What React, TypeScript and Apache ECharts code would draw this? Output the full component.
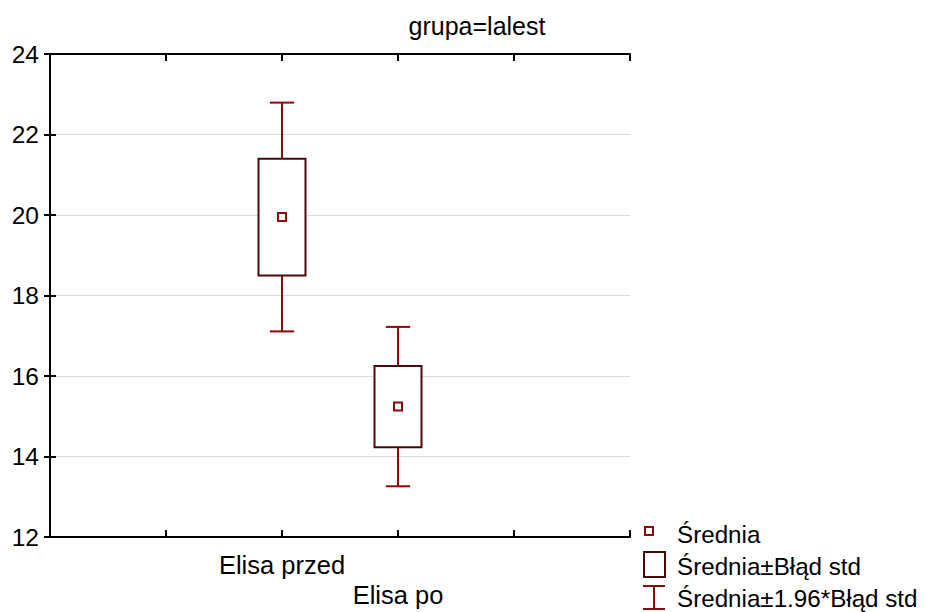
import React, { useEffect, useRef } from "react";
import * as echarts from "echarts";

// Group means and standard errors for the two ELISA measurements
const categories = ["Elisa przed", "Elisa po"];
const categoryPositions = [2, 3];
const means = [19.95, 15.24];
const stdErrors = [1.45, 1.01];
const ciFactor = 1.96;

const yTicks = { min: 12, max: 24, step: 2 };
const titleText = "grupa=lalest";
const legendLabels = ["Średnia", "Średnia±Błąd std", "Średnia±1.96*Błąd std"];

const FONT = "Liberation Sans";
const WHISKER = "#8c0a0a";
const BOX = "#4a0a0a";
const MEAN = "#8c0a0a";

export default function App() {
  const ref = useRef<HTMLDivElement>(null);

  useEffect(() => {
    if (!ref.current) return;
    const chart = echarts.init(ref.current, undefined, { renderer: "svg" });

    const data = categoryPositions.map((x, i) => [x, means[i], stdErrors[i]]);

    // staggered category labels: every second one drops to a second row
    const labelFor = (v: number) => {
      const idx = categoryPositions.indexOf(v);
      if (idx < 0) return "";
      return idx % 2 === 1 ? "\n" + categories[idx] : categories[idx];
    };

    const frameAxis = {
      type: "value" as const,
      min: 0,
      max: 5,
      interval: 1,
      axisLine: { show: true, lineStyle: { color: "#000", width: 2 } },
      axisTick: { show: true, inside: true, length: 7, lineStyle: { color: "#000", width: 2 } },
      splitLine: { show: false },
    };

    const frameYAxis = {
      type: "value" as const,
      min: yTicks.min,
      max: yTicks.max,
      interval: yTicks.step,
      axisLine: { show: true, lineStyle: { color: "#000", width: 2 } },
      axisTick: { show: true, inside: true, length: 6, lineStyle: { color: "#000", width: 2 } },
    };

    chart.setOption({
      animation: false,
      backgroundColor: "#fff",
      grid: { left: 50, right: 308, top: 54, bottom: 75 },
      xAxis: [
        {
          ...frameAxis,
          position: "bottom",
          axisLabel: {
            show: true,
            formatter: labelFor,
            margin: 13,
            lineHeight: 30,
            fontSize: 25.5,
            fontFamily: FONT,
            color: "#000",
            showMinLabel: true,
            showMaxLabel: true,
          },
        },
        { ...frameAxis, position: "top", axisLabel: { show: false } },
      ],
      yAxis: [
        {
          ...frameYAxis,
          position: "left",
          axisLabel: { show: true, margin: 11, fontSize: 24.5, fontFamily: FONT, color: "#000" },
          splitLine: { show: true, lineStyle: { color: "#d9d9d9", width: 1 } },
        },
        {
          ...frameYAxis,
          position: "right",
          axisLabel: { show: false },
          splitLine: { show: false },
        },
      ],
      series: [
        {
          type: "custom",
          xAxisIndex: 0,
          yAxisIndex: 0,
          data,
          renderItem: (params: any, api: any) => {
            const x = api.value(0);
            const m = api.value(1);
            const se = api.value(2);
            const unit = api.size([1, 0])[0];
            const boxW = unit * 0.405;
            const capW = unit * 0.21;
            const [cx, cy] = api.coord([x, m]);
            const boxTop = api.coord([x, m + se])[1];
            const boxBot = api.coord([x, m - se])[1];
            const wTop = api.coord([x, m + ciFactor * se])[1];
            const wBot = api.coord([x, m - ciFactor * se])[1];
            const wStyle = { stroke: WHISKER, lineWidth: 2 };
            return {
              type: "group",
              children: [
                { type: "line", shape: { x1: cx, y1: wTop, x2: cx, y2: boxTop }, style: wStyle },
                { type: "line", shape: { x1: cx - capW / 2, y1: wTop, x2: cx + capW / 2, y2: wTop }, style: wStyle },
                { type: "line", shape: { x1: cx, y1: boxBot, x2: cx, y2: wBot }, style: wStyle },
                { type: "line", shape: { x1: cx - capW / 2, y1: wBot, x2: cx + capW / 2, y2: wBot }, style: wStyle },
                {
                  type: "rect",
                  shape: { x: cx - boxW / 2, y: boxTop, width: boxW, height: boxBot - boxTop },
                  style: { fill: "#fff", stroke: BOX, lineWidth: 2 },
                },
                {
                  type: "rect",
                  shape: { x: cx - 4, y: cy - 4, width: 8, height: 8 },
                  style: { fill: "#fff", stroke: MEAN, lineWidth: 2 },
                },
              ],
            };
          },
        },
      ],
      graphic: [
        {
          type: "text",
          x: 477,
          y: 26,
          style: {
            text: titleText,
            fontSize: 25,
            fontFamily: FONT,
            fill: "#000",
            textAlign: "center",
            textVerticalAlign: "middle",
          },
        },
        // legend: mean marker
        {
          type: "rect",
          shape: { x: 645, y: 527, width: 8, height: 8 },
          style: { fill: "#fff", stroke: MEAN, lineWidth: 2 },
        },
        // legend: standard-error box
        {
          type: "rect",
          shape: { x: 644, y: 552, width: 21, height: 25 },
          style: { fill: "#fff", stroke: BOX, lineWidth: 2 },
        },
        // legend: 1.96 * SE whisker
        { type: "line", shape: { x1: 643, y1: 586, x2: 665, y2: 586 }, style: { stroke: WHISKER, lineWidth: 2 } },
        { type: "line", shape: { x1: 654, y1: 586, x2: 654, y2: 609 }, style: { stroke: WHISKER, lineWidth: 2 } },
        { type: "line", shape: { x1: 643, y1: 609, x2: 665, y2: 609 }, style: { stroke: WHISKER, lineWidth: 2 } },
        ...legendLabels.map((t, i) => ({
          type: "text",
          x: 677,
          y: [534, 566, 598][i],
          style: {
            text: t,
            fontSize: 24.2,
            fontFamily: FONT,
            fill: "#000",
            textAlign: "left",
            textVerticalAlign: "middle",
          },
        })),
      ],
    });

    return () => chart.dispose();
  }, []);

  return (
    <div
      ref={ref}
      style={{ position: "fixed", left: 0, top: 0, width: 938, height: 612, background: "#fff" }}
    />
  );
}
